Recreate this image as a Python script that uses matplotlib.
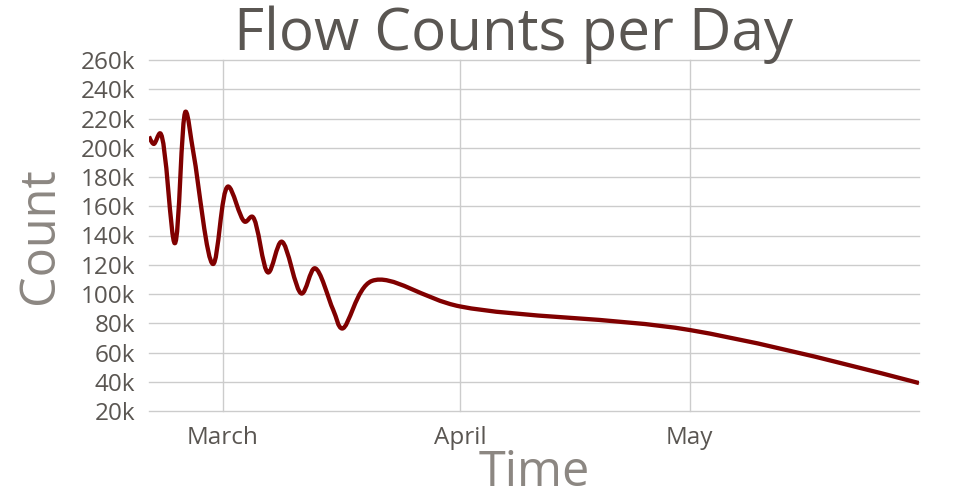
import numpy as np
import pandas as pd
import matplotlib
matplotlib.use("Agg")
import matplotlib.pyplot as plt
import matplotlib.dates as mdates
from matplotlib.path import Path
from matplotlib.patches import PathPatch
from matplotlib.ticker import FuncFormatter

plt.rcParams["font.family"] = ["Open Sans", "DejaVu Sans"]

# flow counts
dates = [
    "2016-02-20 08:00", "2016-02-20 23:00", "2016-02-21 19:00", "2016-02-23 17:00",
    "2016-02-25 03:00", "2016-02-26 04:00", "2016-02-28 17:00", "2016-03-01 16:00",
    "2016-03-03 21:00", "2016-03-04 20:00", "2016-03-06 22:00", "2016-03-08 16:00",
    "2016-03-11 07:00", "2016-03-13 00:00", "2016-03-15 10:00", "2016-03-16 14:00",
    "2016-03-20 11:00", "2016-04-01 00:00", "2016-05-01 00:00", "2016-05-31 00:00",
]
counts = [
    207700, 202600, 209900, 134700,
    224700, 195700, 120500, 173500,
    149400, 152900, 114700, 135800,
    100300, 117600, 89100, 76400,
    108900, 91500, 75400, 39100,
]
month_ticks = ["2016-03-01", "2016-04-01", "2016-05-01"]
month_labels = ["March", "April", "May"]
y_ticks = list(range(20000, 260001, 20000))

TITLE_COLOR = "#5a5652"
TICK_COLOR = "#5a5652"
AXTITLE_COLOR = "#8c8782"
LINE_COLOR = "#800000"
GRID_COLOR = "#cccccc"


def make_tangent(prev, this, nxt, smoothness=1.0):
    # same control point rule as plotly's "spline" line shape
    d1 = prev - this
    d2 = nxt - this
    d1a = np.hypot(*d1) ** 0.5
    d2a = np.hypot(*d2) ** 0.5
    num = (d2a * d2a * d1 - d1a * d1a * d2) * smoothness
    den1 = 3 * d2a * (d1a + d2a)
    den2 = 3 * d1a * (d1a + d2a)
    a = this + (num / den1 if den1 else 0)
    b = this - (num / den2 if den2 else 0)
    return a, b


def spline_path(pts):
    tans = [make_tangent(pts[i - 1], pts[i], pts[i + 1]) for i in range(1, len(pts) - 1)]
    verts = [pts[0], tans[0][0], pts[1]]
    codes = [Path.MOVETO, Path.CURVE3, Path.CURVE3]
    for i in range(2, len(pts) - 1):
        verts += [tans[i - 2][1], tans[i - 1][0], pts[i]]
        codes += [Path.CURVE4] * 3
    verts += [tans[len(pts) - 3][1], pts[-1]]
    codes += [Path.CURVE3] * 2
    return np.array(verts), codes


fig = plt.figure(figsize=(9.6, 5.0), dpi=100)
ax = fig.add_axes([149 / 960, 89 / 500, 770 / 960, 351 / 500])

x = mdates.date2num(pd.to_datetime(dates))
y = np.array(counts, dtype=float)
ax.set_xlim(x[0], x[-1])
ax.set_ylim(20000, 260000)

# smooth in pixel space, then map the bezier controls back to data space
disp = ax.transData.transform(np.column_stack([x, y]))
verts, codes = spline_path(disp)
verts = ax.transData.inverted().transform(verts)
ax.add_patch(PathPatch(Path(verts, codes), fill=False, edgecolor=LINE_COLOR,
                       linewidth=3.1, joinstyle="round", capstyle="butt", zorder=3))

ax.set_xticks(mdates.date2num(pd.to_datetime(month_ticks)))
ax.set_xticklabels(month_labels)
ax.set_yticks(y_ticks)
ax.yaxis.set_major_formatter(FuncFormatter(lambda v, _: f"{v / 1000:.0f}k"))
ax.tick_params(axis="both", length=0, labelsize=17.5, labelcolor=TICK_COLOR)
ax.tick_params(axis="y", pad=10)
ax.tick_params(axis="x", pad=11)
ax.grid(True, color=GRID_COLOR, linewidth=1.0)
for gl in ax.get_xgridlines() + ax.get_ygridlines():
    gl.set_clip_on(False)
ax.set_axisbelow(True)
for s in ax.spines.values():
    s.set_visible(False)

fig.text(514 / 960, 1 - 50 / 500, "Flow Counts per Day", ha="center", va="baseline",
         fontsize=42, color=TITLE_COLOR)
fig.text(40 / 960, 1 - 236 / 500, "Count", ha="center", va="center", rotation=90,
         fontsize=35, color=AXTITLE_COLOR)
fig.text(534 / 960, 1 - 486 / 500, "Time", ha="center", va="baseline",
         fontsize=35, color=AXTITLE_COLOR)

fig.savefig("out.png", dpi=100)
plt.close(fig)
